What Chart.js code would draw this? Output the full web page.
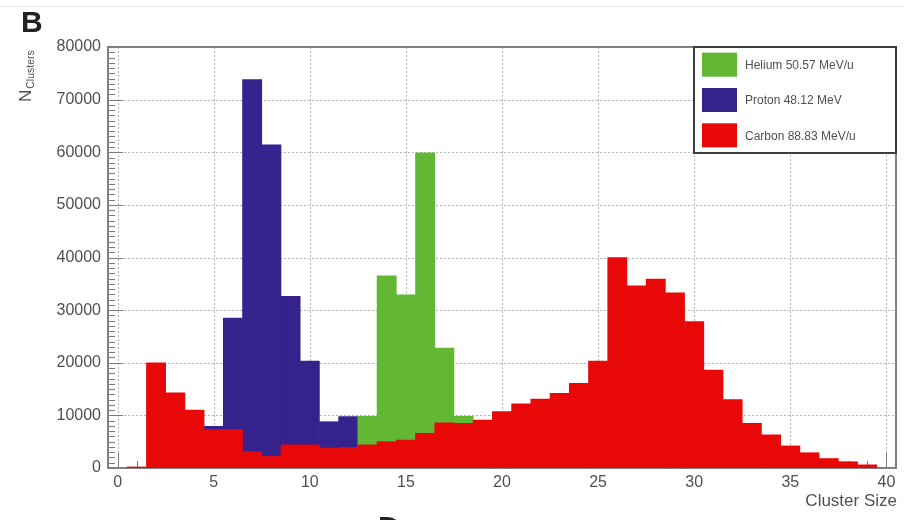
<!DOCTYPE html>
<html>
<head>
<meta charset="utf-8">
<script src="https://cdn.jsdelivr.net/npm/chart.js@4.4.1/dist/chart.umd.min.js"></script>
<style>
  html, body { margin: 0; padding: 0; background: #ffffff; }
  #wrap { width: 904px; height: 520px; position: relative; }
</style>
</head>
<body>
<div id="wrap"><canvas id="c" width="904" height="520"></canvas></div>
<script>
// Cluster size bins (bin centres, unit width)
const clusterSizes = [0,1,2,3,4,5,6,7,8,9,10,11,12,13,14,15,16,17,18,19,20,
                      21,22,23,24,25,26,27,28,29,30,31,32,33,34,35,36,37,38,39,40];

// Number of clusters per bin for each beam
const heliumCounts = [0,0,0,0,0,0,0,0,0,0,0,0,0,9800,36500,32900,59900,22800,9800,0,0,
                      0,0,0,0,0,0,0,0,0,0,0,0,0,0,0,0,0,0,0,0];
const protonCounts = [0,0,0,0,0,7900,28500,73800,61400,32600,20300,8800,9750,0,0,0,0,0,0,0,0,
                      0,0,0,0,0,0,0,0,0,0,0,0,0,0,0,0,0,0,0,0];
const carbonCounts = [0,200,20000,14300,11000,7300,7300,3100,2200,4400,4400,3800,3900,4400,5000,5300,6600,8600,8500,9100,10700,
                      12200,13100,14200,16100,20300,40000,34600,35900,33300,27800,18600,13000,8500,6300,4200,2900,1800,1200,600,0];

const seriesLabels = ['Helium 50.57 MeV/u', 'Proton 48.12 MeV', 'Carbon 88.83 MeV/u'];
const seriesColors = ['#62b733', '#35228d', '#e90808'];

const yTicks = [0, 10000, 20000, 30000, 40000, 50000, 60000, 70000, 80000];
const xTicks = [0, 5, 10, 15, 20, 25, 30, 35, 40];

const FONT = '"Liberation Sans", Arial, Helvetica, sans-serif';
const LABEL_COLOR = '#505050';

function toPoints(values) {
  const pts = [];
  values.forEach((v, i) => { if (v > 0) pts.push({ x: clusterSizes[i], y: v }); });
  return pts;
}

// Dotted grid, frame and inward tick marks, drawn beneath the histograms
const frameAndGrid = {
  id: 'frameAndGrid',
  beforeDatasetsDraw(chart) {
    const { ctx, chartArea: a, scales: { x, y } } = chart;
    ctx.save();
    // grid
    ctx.strokeStyle = '#b4b4b4';
    ctx.lineWidth = 1;
    ctx.setLineDash([2, 2]);
    xTicks.forEach(v => {
      const px = Math.round(x.getPixelForValue(v)) + 0.5;
      ctx.beginPath(); ctx.moveTo(px, a.top); ctx.lineTo(px, a.bottom); ctx.stroke();
    });
    yTicks.forEach(v => {
      const py = Math.round(y.getPixelForValue(v)) + 0.5;
      ctx.beginPath(); ctx.moveTo(a.left, py); ctx.lineTo(a.right, py); ctx.stroke();
    });
    ctx.setLineDash([]);
    // tick marks
    ctx.strokeStyle = '#7c7c7c';
    ctx.lineWidth = 1;
    for (let v = 0; v <= 80000; v += 1000) {
      const py = Math.round(y.getPixelForValue(v)) + 0.5;
      const len = v % 10000 === 0 ? 15 : 7;
      ctx.beginPath(); ctx.moveTo(a.left, py); ctx.lineTo(a.left + len, py); ctx.stroke();
    }
    for (let v = 0; v <= 40; v += 1) {
      const px = Math.round(x.getPixelForValue(v)) + 0.5;
      const len = v % 5 === 0 ? 15 : 7;
      ctx.beginPath(); ctx.moveTo(px, a.bottom); ctx.lineTo(px, a.bottom - len); ctx.stroke();
    }
    // frame
    ctx.strokeStyle = '#808080';
    ctx.lineWidth = 2;
    ctx.strokeRect(a.left, a.top, a.right - a.left, a.bottom - a.top);
    ctx.restore();
  }
};

// Boxed legend in the upper right corner of the plot
const boxLegend = {
  id: 'boxLegend',
  afterDatasetsDraw(chart) {
    const { ctx, chartArea: a } = chart;
    const left = 694, top = a.top, right = a.right, bottom = 153;
    ctx.save();
    ctx.fillStyle = '#ffffff';
    ctx.fillRect(left, top, right - left, bottom - top);
    ctx.strokeStyle = '#3c3c3c';
    ctx.lineWidth = 2;
    ctx.strokeRect(left, top, right - left, bottom - top);
    const rowH = (bottom - top) / chart.data.datasets.length;
    chart.data.datasets.forEach((ds, i) => {
      const cy = top + rowH * (i + 0.5);
      ctx.fillStyle = ds.backgroundColor;
      ctx.fillRect(702, cy - 12, 35, 24);
      ctx.fillStyle = LABEL_COLOR;
      ctx.font = '12px ' + FONT;
      ctx.textBaseline = 'middle';
      ctx.textAlign = 'left';
      ctx.fillText(ds.label, 745, cy + 1);
    });
    ctx.restore();
  }
};

// Panel letter and axis titles
const annotations = {
  id: 'annotations',
  afterDraw(chart) {
    const { ctx, chartArea: a } = chart;
    ctx.save();
    ctx.strokeStyle = '#ececec';
    ctx.lineWidth = 1;
    ctx.beginPath(); ctx.moveTo(0, 6.5); ctx.lineTo(904, 6.5); ctx.stroke();

    ctx.fillStyle = '#222222';
    ctx.font = 'bold 30px ' + FONT;
    ctx.textAlign = 'left';
    ctx.textBaseline = 'alphabetic';
    ctx.fillText('B', 21, 32);
    ctx.fillText('D', 378, 537);

    ctx.fillStyle = LABEL_COLOR;
    ctx.font = '17px ' + FONT;
    ctx.textAlign = 'right';
    ctx.fillText('Cluster Size', a.right + 1, 506);

    ctx.translate(31, 102);
    ctx.rotate(-Math.PI / 2);
    ctx.textAlign = 'left';
    ctx.font = '17px ' + FONT;
    ctx.fillText('N', 0, 0);
    const nW = ctx.measureText('N').width;
    ctx.font = '10.5px ' + FONT;
    ctx.fillText('Clusters', nW + 1, 3);
    ctx.restore();
  }
};

const datasets = [
  { label: seriesLabels[0], data: toPoints(heliumCounts), backgroundColor: seriesColors[0], order: 1 },
  { label: seriesLabels[1], data: toPoints(protonCounts), backgroundColor: seriesColors[1], order: 2 },
  { label: seriesLabels[2], data: toPoints(carbonCounts), backgroundColor: seriesColors[2], order: 0 }
];

new Chart(document.getElementById('c'), {
  type: 'bar',
  data: { datasets },
  options: {
    responsive: false,
    animation: false,
    devicePixelRatio: 1,
    layout: { padding: { top: 47, right: 8, left: 0, bottom: 0 } },
    datasets: {
      bar: { grouped: false, barPercentage: 1, categoryPercentage: 1, borderWidth: 0 }
    },
    plugins: {
      legend: { display: false },
      tooltip: { enabled: false }
    },
    scales: {
      x: {
        type: 'linear',
        offset: false,
        min: -0.5,
        max: 40.5,
        grid: { display: false, drawTicks: false, offset: false },
        border: { display: false },
        ticks: {
          stepSize: 5,
          includeBounds: false,
          autoSkip: false,
          maxRotation: 0,
          padding: 5,
          color: LABEL_COLOR,
          font: { family: FONT, size: 16 },
          callback: v => String(v)
        },
        afterFit(s) { s.height = 52; }
      },
      y: {
        min: 0,
        max: 80000,
        grid: { display: false, drawTicks: false },
        border: { display: false },
        ticks: {
          stepSize: 10000,
          padding: 7,
          color: LABEL_COLOR,
          font: { family: FONT, size: 16 },
          callback: v => String(v)
        },
        afterFit(s) { s.width = 108; }
      }
    }
  },
  plugins: [frameAndGrid, boxLegend, annotations]
});
</script>
</body>
</html>
